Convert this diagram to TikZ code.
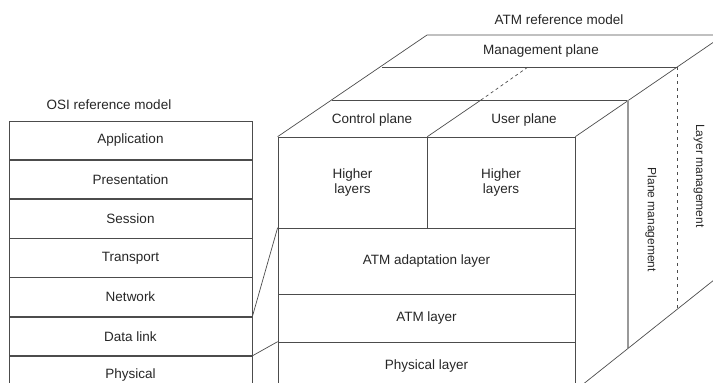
\documentclass[tikz,border=0pt]{standalone}
\usepackage{fontspec}
\setmainfont{Liberation Sans}
\usetikzlibrary{positioning}

\begin{document}
\begin{tikzpicture}[x=1pt,y=1pt,
  every node/.style={font=\fontsize{13.5}{15}\selectfont,text=black!85},
  edge/.style={draw=black!70,line width=0.7pt},
  osibox/.style={edge,inner sep=0pt,minimum width=243pt,minimum height=38.5pt},
  cellbox/.style={edge,inner sep=0pt,align=center},
  sidelabel/.style={rotate=-90,font=\fontsize{12}{14}\selectfont}]
\useasboundingbox (0,0) rectangle (713,-383);
\clip (0,0) rectangle (713,-383);

% OSI stack
\node (osititle) at (109,-105) {OSI reference model};
\node[osibox] (app) at (130.5,-140.25) {Application};
\node[osibox,below=0pt of app] (pres) {Presentation};
\node[osibox,below=0pt of pres] (sess) {Session};
\node[osibox,below=0pt of sess] (trans) {Transport};
\node[osibox,below=0pt of trans] (net) {Network};
\node[osibox,below=0pt of net] (dl) {Data link};
\node[osibox,below=0pt of dl] (phys) {Physical};

% ATM front face
\node (atmtitle) at (559,-20) {ATM reference model};
\node[cellbox,minimum width=149pt,minimum height=91pt] (hlc) at (352.5,-182.5) {Higher\\layers};
\node[cellbox,minimum width=148pt,minimum height=91pt] (hlu) at (501,-182.5) {Higher\\layers};
\node[cellbox,minimum width=297pt,minimum height=66pt] (aal) at (426.5,-261) {ATM adaptation layer};
\node[cellbox,minimum width=297pt,minimum height=48pt] (atml) at (426.5,-318) {ATM layer};
\node[cellbox,minimum width=297pt,minimum height=48pt] (phyl) at (426.5,-366) {Physical layer};

% top and side
\coordinate (a1) at (332,-100);
\coordinate (b1) at (628,-100);
\coordinate (a2) at (382,-67);
\coordinate (b2) at (677,-67);
\coordinate (a3) at (427,-35);
\coordinate (b3) at (724,-35);
\coordinate (m1) at (481,-100);
\coordinate (m2) at (528,-67);
\coordinate (p1) at (628,-348);
\coordinate (p2) at (677,-309);
\coordinate (bb) at (724,-272);

\draw[edge] (hlc.north west) -- (a3) -- (b3) -- (hlu.north east);
\draw[edge] (a1) -- (b1);
\draw[edge] (a2) -- (b2);
\draw[edge] (hlc.north east) -- (m1);
\draw[edge,dashed] (m1) -- (m2);
\draw[draw=black!40,line width=1.6pt] (b1) -- (p1);
\draw[edge,dash pattern=on 3pt off 4pt] (b2) -- (p2);
\draw[edge] (phyl.south east) -- (bb);

\node (mgmt) at (541,-51) {Management plane};
\node (ctrl) at (372,-120) {Control plane};
\node (user) at (524,-120) {User plane};
\node[sidelabel] (planemgmt) at (651,-220) {Plane management};
\node[sidelabel] (layermgmt) at (699,-176) {Layer management};

% OSI to ATM
\draw[edge] (net.south east) -- (aal.north west);
\draw[edge] (dl.south east) -- (phyl.north west);
\end{tikzpicture}
\end{document}
